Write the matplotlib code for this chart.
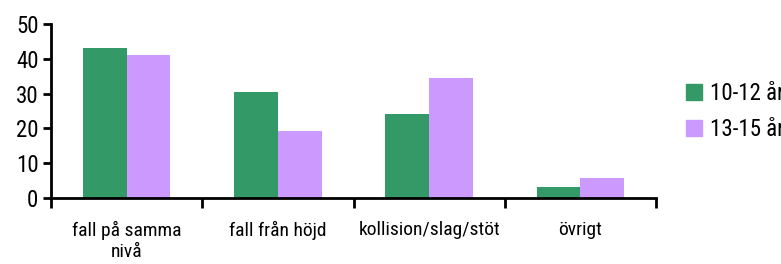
import matplotlib
matplotlib.use("Agg")
import matplotlib.pyplot as plt
import numpy as np
from matplotlib import font_manager as fm
from matplotlib.patches import Patch

categories = ["fall på samma\nnivå", "fall från höjd", "kollision/slag/stöt", "övrigt"]
series_names = ["10-12 år", "13-15 år"]
values_10_12 = [43, 30.5, 24, 3.2]
values_13_15 = [41, 19.3, 34.5, 5.7]
yticks = [0, 10, 20, 30, 40, 50]

colors = ["#339966", "#cc99ff"]

names = {f.name for f in fm.fontManager.ttflist}
fam = "DejaVu Sans"
for cand in ["Roboto Condensed", "Liberation Sans Narrow", "Open Sans Condensed", "DejaVu Sans Condensed"]:
    if cand in names:
        fam = cand
        break
plt.rcParams['font.family'] = [fam, "DejaVu Sans"]

fig = plt.figure(figsize=(7.81, 2.64), dpi=100)
ax = fig.add_axes([51/781, 66/264, 605/781, 174/264])

x = np.arange(len(categories))
w = 0.29
ax.bar(x - w/2, values_10_12, w, color=colors[0], label=series_names[0])
ax.bar(x + w/2, values_13_15, w, color=colors[1], label=series_names[1])

ax.set_xlim(-0.5, len(categories) - 0.5)
ax.set_ylim(0, 50)
ax.set_yticks(yticks)
ax.tick_params(axis='y', labelsize=16.5, length=6, width=2, direction='out', pad=3)
ax.set_xticks(np.arange(len(categories) + 1) - 0.5)
ax.set_xticklabels([])
ax.tick_params(axis='x', length=7, width=2, direction='out')
for i, c in enumerate(categories):
    ax.text(i, -0.13, c, transform=ax.get_xaxis_transform(), ha='center', va='top',
            fontsize=14, linespacing=1.25)

for s in ['top', 'right']:
    ax.spines[s].set_visible(False)
for s in ['left', 'bottom']:
    ax.spines[s].set_linewidth(2)

handles = [Patch(color=colors[0]), Patch(color=colors[1])]
fig.legend(handles, series_names, loc='upper left', bbox_to_anchor=(686/781, 1 - 82/264),
           frameon=False, fontsize=16.5, handlelength=0.7, handleheight=0.7,
           handletextpad=0.35, labelspacing=0.55, borderaxespad=0, borderpad=0)

fig.savefig("out.png", dpi=100)
